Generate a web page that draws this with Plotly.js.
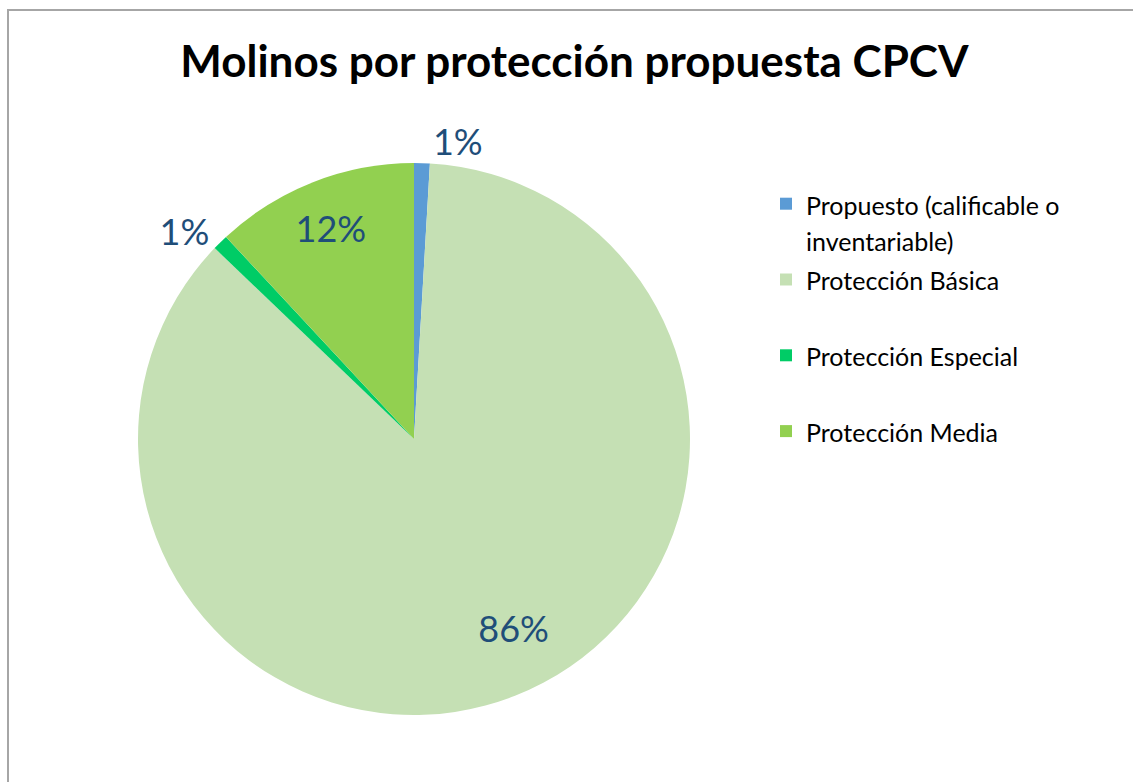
<!DOCTYPE html>
<html>
<head>
<meta charset="utf-8">
<script src="https://cdn.plot.ly/plotly-3.0.1.min.js"></script>
<style>
  html, body { margin: 0; padding: 0; background: #ffffff; overflow: hidden; }
  #frame { position: absolute; left: 7px; top: 9px; width: 1200px; height: 900px;
           border-left: 2px solid #A6A6A6; border-top: 2px solid #A6A6A6; pointer-events: none; }
  #chart { position: absolute; left: 0; top: 0; width: 1133px; height: 782px; }
</style>
</head>
<body>
<div id="chart"></div>
<div id="frame"></div>
<script>
// Data
var categories = ['Propuesto (calificable o<br>inventariable)', 'Protección Básica', 'Protección Especial', 'Protección Media'];
var counts = [1, 94, 1, 13];
var sliceColors = ['#5B9BD5', '#C5E0B4', '#00CC66', '#92D050'];
var labelPositions = ['outside', 'inside', 'outside', 'inside'];
var chartTitle = 'Molinos por protección propuesta CPCV';

var W = 1133, H = 782;
var cx = 414, cy = 439, R = 276;

// legend names: each item two lines tall so the spacing matches
var legendNames = categories.map(function (c) {
  var txt = c.indexOf('<br>') >= 0 ? c : c + '<br> ';
  return '<span style="font-size:25px">' + txt + '</span>';
});

// label templates (padding only nudges where the library centres the text)
function nb(n) { var s = ''; for (var i = 0; i < n; i++) s += '&nbsp;'; return s; }
var pct = '<span style="font-size:36px">%{percent:.0%}</span>';
var labelTemplates = [
  pct,
  nb(1) + '<br>' + nb(1) + '<br>' + nb(1) + '<br>' + nb(12) + pct,
  pct,
  pct + nb(2) + '<br>' + nb(1)
];
var labelSizes = [36, 32, 36, 36];

var trace = {
  type: 'pie',
  labels: legendNames,
  values: counts,
  sort: false,
  direction: 'clockwise',
  rotation: 0,
  marker: { colors: sliceColors, line: { width: 0 } },
  textposition: labelPositions,
  texttemplate: labelTemplates,
  textfont: { family: 'Lato, sans-serif', size: labelSizes, color: '#1F4E79' },
  insidetextorientation: 'horizontal',
  hoverinfo: 'none',
  domain: { x: [(cx - R) / W, (cx + R) / W], y: [1 - (cy + R) / H, 1 - (cy - R) / H] }
};

var layout = {
  width: W, height: H,
  margin: { l: 0, r: 0, t: 0, b: 0 },
  paper_bgcolor: '#ffffff',
  title: {
    text: '<b>' + chartTitle + '</b>',
    font: { family: 'Lato, sans-serif', size: 44, color: '#000000' },
    x: 0.507, xanchor: 'center', y: 1 - 62 / H, yanchor: 'middle'
  },
  showlegend: true,
  legend: {
    x: 766 / W, xanchor: 'left',
    y: 1 - 179 / H, yanchor: 'top',
    valign: 'top',
    font: { family: 'Lato, sans-serif', size: 28, color: '#000000' },
    bgcolor: 'rgba(0,0,0,0)'
  }
};

Plotly.newPlot('chart', [trace], layout, { staticPlot: true, displayModeBar: false });
</script>
</body>
</html>
